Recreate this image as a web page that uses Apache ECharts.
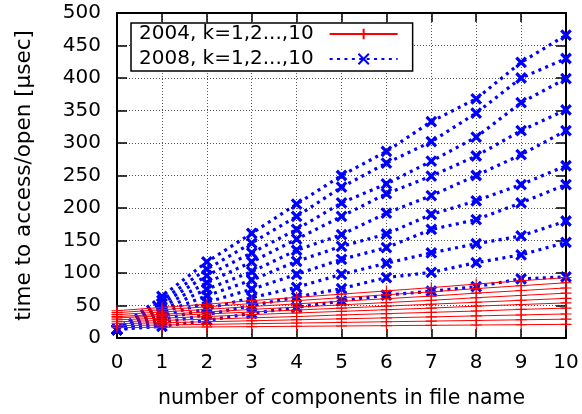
<!DOCTYPE html>
<html>
<head>
<meta charset="utf-8">
<script src="https://cdn.jsdelivr.net/npm/echarts@6/dist/echarts.min.js"></script>
<style>html,body{margin:0;padding:0;background:#fff}#c{width:582px;height:414px}</style>
</head>
<body>
<div id="c"></div>
<script>
// number of components in file name
const xValues = [0, 1, 2, 3, 4, 5, 6, 7, 8, 9, 10];

// 2008 series, k = 1..10 (time in usec)
const y2008_k1  = [13, 18, 27, 38, 47, 57, 66, 72, 79, 91, 94];
const y2008_k2  = [13, 23, 36, 50, 63, 76, 93, 101, 116, 128, 147];
const y2008_k3  = [13, 28, 45, 62, 78, 98, 115, 131, 145, 157, 180];
const y2008_k4  = [13, 33, 55, 75, 98, 121, 139, 167, 182, 208, 236];
const y2008_k5  = [13, 38, 65, 89, 118, 141, 160, 190, 211, 236, 265];
const y2008_k6  = [13, 43, 75, 102, 135, 159, 192, 219, 250, 282, 319];
const y2008_k7  = [13, 48, 85, 117, 152, 187, 222, 249, 280, 319, 351];
const y2008_k8  = [13, 53, 96, 131, 167, 208, 237, 272, 309, 362, 399];
const y2008_k9  = [13, 58, 106, 146, 187, 232, 269, 302, 346, 400, 430];
const y2008_k10 = [13, 64, 117, 161, 206, 250, 287, 333, 368, 424, 466];

// 2004 series, k = 1..10 (time in usec)
const y2004_k1  = [16, 16.5, 17, 17.5, 18, 18.5, 19, 19.5, 20, 20.5, 21];
const y2004_k2  = [19, 20, 21, 22, 23, 24, 25, 26, 27, 28, 29];
const y2004_k3  = [22, 23.5, 25, 26.5, 28, 29.5, 31, 32.5, 34, 35.5, 37];
const y2004_k4  = [25, 27, 29, 31, 33, 35.5, 37.5, 39.5, 41.5, 44, 46];
const y2004_k5  = [28, 30.5, 33, 36, 38.5, 41, 43.5, 46, 49, 51.5, 54];
const y2004_k6  = [31, 34, 37, 40, 43, 46, 49, 52, 55, 58, 61];
const y2004_k7  = [33, 36.5, 40, 44, 47.5, 51, 54.5, 58, 62, 65.5, 69];
const y2004_k8  = [36, 40, 44, 48.5, 52.5, 56.5, 60.5, 64.5, 69, 73, 77];
const y2004_k9  = [39, 43.5, 48, 53, 57.5, 62, 66.5, 71, 76, 80.5, 85];
const y2004_k10 = [42, 47, 52, 57.5, 62.5, 67.5, 72.5, 77.5, 83, 88, 93];

const name2004 = '2004, k=1,2...,10';
const name2008 = '2008, k=1,2...,10';
const xAxisTitle = 'number of components in file name';
const yAxisTitle = 'time to access/open [\u03bcsec]';

const set2008 = [y2008_k1, y2008_k2, y2008_k3, y2008_k4, y2008_k5, y2008_k6, y2008_k7, y2008_k8, y2008_k9, y2008_k10];
const set2004 = [y2004_k1, y2004_k2, y2004_k3, y2004_k4, y2004_k5, y2004_k6, y2004_k7, y2004_k8, y2004_k9, y2004_k10];

const FONT = 'DejaVu Sans';
const CROSS = 'path://M0,0L10,10M10,0L0,10';
const PLUS = 'path://M0,5L10,5M5,0L5,10';

function pairs(ys) { return xValues.map((x, i) => [x, ys[i]]); }

const series = [];
set2008.forEach(ys => series.push({
  name: name2008, type: 'line', data: pairs(ys),
  symbol: CROSS, symbolSize: 9.5, showAllSymbol: true,
  itemStyle: { color: '#0000ff', borderColor: '#0000ff', borderWidth: 3.2 },
  lineStyle: { color: '#0000ff', width: 3.2, type: [3, 4.4], cap: 'butt' },
  emphasis: { disabled: true }, z: 2
}));
set2004.forEach(ys => series.push({
  name: name2004, type: 'line', data: pairs(ys),
  symbol: PLUS, symbolSize: 11, showAllSymbol: true,
  itemStyle: { color: '#ff0000', borderColor: '#ff0000', borderWidth: 1.1 },
  lineStyle: { color: '#ff0000', width: 1 },
  emphasis: { disabled: true }, z: 3
}));

const chart = echarts.init(document.getElementById('c'));
chart.setOption({
  animation: false,
  backgroundColor: '#fff',
  textStyle: { fontFamily: FONT },
  grid: { left: 117, right: 16, top: 13, bottom: 74, containLabel: false },
  legend: {
    data: [name2004, name2008], orient: 'vertical', left: 131, top: 23,
    align: 'right', itemWidth: 68, itemHeight: 13, itemGap: 5,
    padding: [1, 14, 2, 8], backgroundColor: '#fff',
    borderColor: '#000', borderWidth: 1.5, selectedMode: false,
    formatter: '{t|{name}}',
    textStyle: {
      fontFamily: FONT, fontSize: 20, color: '#000',
      rich: { t: { fontFamily: FONT, fontSize: 20, color: '#000', padding: [0, 11, 0, 0] } }
    }
  },
  xAxis: [{
    type: 'value', min: 0, max: 10, interval: 1, position: 'bottom',
    name: xAxisTitle, nameLocation: 'middle', nameGap: 50,
    nameTextStyle: { fontFamily: FONT, fontSize: 20.5, color: '#000' },
    axisLine: { onZero: false, lineStyle: { color: '#000', width: 2 } },
    axisTick: { inside: true, length: 9, lineStyle: { color: '#000', width: 1.5 } },
    axisLabel: { fontFamily: FONT, fontSize: 20, color: '#000', margin: 15 },
    splitLine: { show: true, lineStyle: { color: '#555', width: 1, type: [1, 2] } }
  }, {
    type: 'value', min: 0, max: 10, interval: 1, position: 'top',
    axisLine: { onZero: false, lineStyle: { color: '#000', width: 2 } },
    axisTick: { inside: true, length: 9, lineStyle: { color: '#000', width: 1.5 } },
    axisLabel: { show: false }, splitLine: { show: false }
  }],
  yAxis: [{
    type: 'value', min: 0, max: 500, interval: 50, position: 'left',
    name: yAxisTitle, nameLocation: 'middle', nameGap: 82,
    nameTextStyle: { fontFamily: FONT, fontSize: 21.5, color: '#000' },
    axisLine: { show: true, onZero: false, lineStyle: { color: '#000', width: 2 } },
    axisTick: { show: true, inside: true, length: 10, lineStyle: { color: '#000', width: 1.5 } },
    axisLabel: { fontFamily: FONT, fontSize: 20, color: '#000', margin: 16 },
    splitLine: { show: true, lineStyle: { color: '#555', width: 1, type: [1, 2] } }
  }, {
    type: 'value', min: 0, max: 500, interval: 50, position: 'right',
    axisLine: { show: true, onZero: false, lineStyle: { color: '#000', width: 2 } },
    axisTick: { show: true, inside: true, length: 10, lineStyle: { color: '#000', width: 1.5 } },
    axisLabel: { show: false }, splitLine: { show: false }
  }],
  series: series
});
</script>
</body>
</html>
